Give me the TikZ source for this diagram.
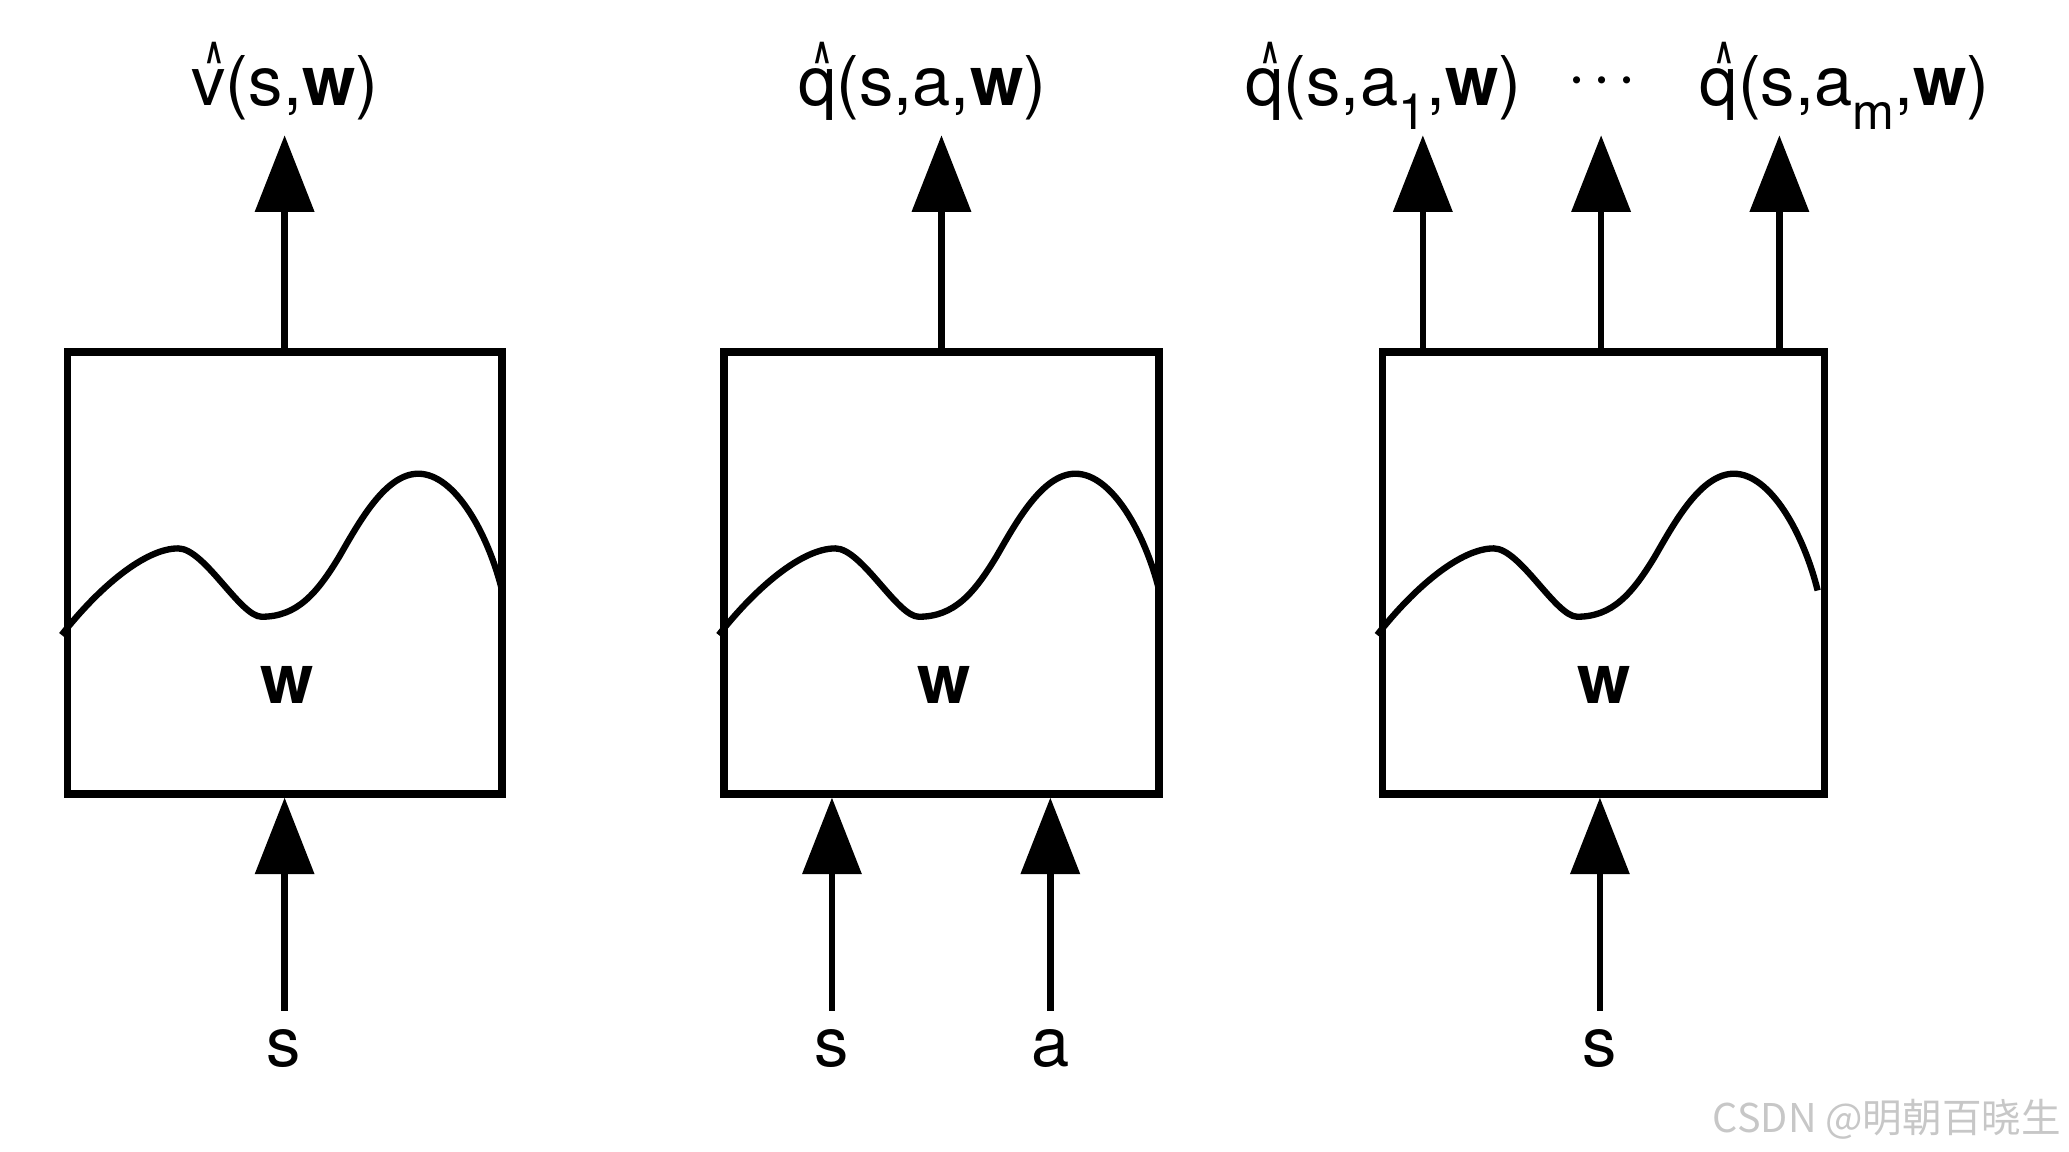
\documentclass[tikz,border=0pt]{standalone}
\usepackage{fontspec}
\usepackage{graphicx}
\setmainfont{TeX Gyre Heros}
\newfontfamily\cjk{Noto Sans CJK SC}
\usetikzlibrary{arrows.meta}

\newcommand{\hatted}[1]{\ooalign{#1\cr\hidewidth\kern8pt\raisebox{21.5pt}{\scalebox{0.6}[1]{\fontsize{38.5}{38.5}\selectfont\bfseries\textasciicircum}}\hidewidth\cr}}
\newcommand{\lowsub}[1]{\raisebox{-18.2pt}{\fontsize{38}{38}\selectfont #1}}

\tikzset{
  box/.style={draw, line width=5.5pt, minimum width=329.5pt, minimum height=335pt, inner sep=0pt},
  lab/.style={font=\fontsize{52}{60}\selectfont, inner sep=0pt, anchor=base},
  arr/.style={-{Triangle[length=58pt,width=44pt]}, line width=5pt},
  wave/.style={line width=4.8pt},
}

\newcommand{\wavecurve}[1]{%
  \draw[wave, xshift=#1pt] (46.7,481.2) .. controls (75,445) and (110,415.6) .. (135,415.6)
    .. controls (155,415.6) and (182,467.4) .. (198.3,467.4)
    .. controls (225,467.4) and (240,450) .. (257,422)
    .. controls (272,396) and (292,359) .. (317,359)
    .. controls (345,359) and (370,405) .. (380.5,447.5);}

\begin{document}
\begin{tikzpicture}[x=1pt,y=-1pt]
\useasboundingbox (0,0) rectangle (1568,873);

% boxes
\node[box] (b1) at (215.7,434.2) {};
\node[box] (b2) at (713.5,434.2) {};
\node[box, minimum width=335.5pt] (b3) at (1215.2,434.2) {};

% curves
\wavecurve{0}
\wavecurve{498}
\wavecurve{997}

% w labels
\node[lab] (w1) at (217.5,533) {\textbf{w}};
\node[lab] (w2) at (715.5,533) {\textbf{w}};
\node[lab] (w3) at (1215.5,533) {\textbf{w}};

% output labels
\node[lab] (o1) at (216,80) {\hatted{v}(s,\textbf{w})};
\node[lab] (o2) at (699,80) {\hatted{q}(s,a,\textbf{w})};
\node[lab] (o3) at (1048.5,80) {\hatted{q}(s,a\lowsub{1},\textbf{w})};
\node[lab] (od) at (1214,80) {\raisebox{6pt}{·\kern4.5pt·\kern4.5pt·}};
\node[lab] (o4) at (1398,80) {\hatted{q}(s,a\lowsub{m},\textbf{w})};

% output arrow tips
\coordinate (t1) at (215.7,102.5);
\coordinate (t2) at (713.5,102.5);
\coordinate (t3a) at (1078.3,102.5);
\coordinate (t3b) at (1213.4,102.5);
\coordinate (t3c) at (1348.5,102.5);

\draw[arr] (t1 |- b1.north) -- (t1);
\draw[arr] (t2 |- b2.north) -- (t2);
\draw[arr] (t3a |- b3.north) -- (t3a);
\draw[arr] (t3b |- b3.north) -- (t3b);
\draw[arr] (t3c |- b3.north) -- (t3c);

% input labels
\node[lab] (i1) at (215,808) {s};
\node[lab] (i2s) at (630,808) {s};
\node[lab] (i2a) at (796,808) {a};
\node[lab] (i3) at (1212.5,808) {s};

\coordinate (s1) at (215.7,766);
\coordinate (s2a) at (630.5,766);
\coordinate (s2b) at (796,766);
\coordinate (s3) at (1212.5,766);

\draw[arr] (s1) -- (s1 |- b1.south);
\draw[arr] (s2a) -- (s2a |- b2.south);
\draw[arr] (s2b) -- (s2b |- b2.south);
\draw[arr] (s3) -- (s3 |- b3.south);

% watermark
\node[anchor=base east, inner sep=0pt, font=\cjk\fontsize{30}{30}\selectfont, text=black!22] (wm) at (1562,858) {CSDN @明朝百晓生};
\end{tikzpicture}
\end{document}
